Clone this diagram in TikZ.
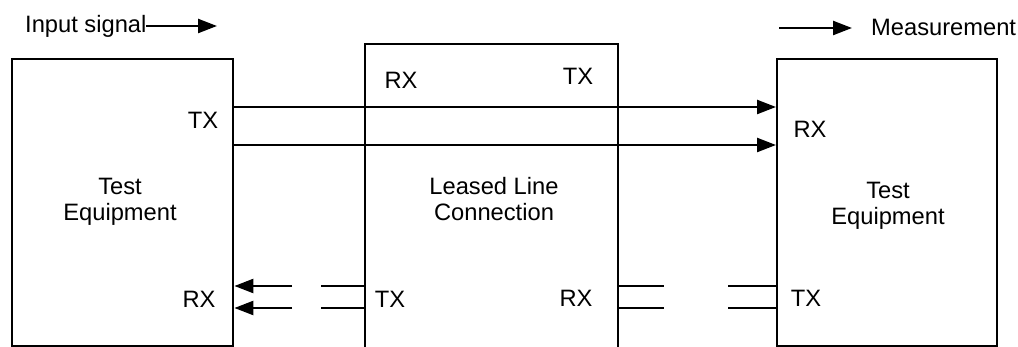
\documentclass[tikz,border=0pt]{standalone}
\usepackage{fontspec}
\setmainfont{Liberation Sans}
\usetikzlibrary{arrows.meta}
\begin{document}
\begin{tikzpicture}[x=1pt,y=-1pt,
  line width=2.4pt,
  lbl/.style={font=\fontsize{23.7}{26}\selectfont, inner sep=0pt, anchor=base},
  blk/.style={font=\fontsize{23.7}{26}\selectfont, inner sep=0pt, align=center},
  sig/.style={-{Triangle[length=19pt,width=14pt]}},
  box/.style={draw, rectangle, inner sep=0pt, line width=2.4pt}
]
\useasboundingbox (0,0) rectangle (1018,347);
% boxes
\node[box, minimum width=221pt, minimum height=287pt, anchor=north west] (lbox) at (11,58) {};
\node[box, minimum width=220pt, minimum height=287pt, anchor=north west] (rbox) at (776,58) {};
\coordinate (mtl) at (365,44);
\coordinate (mtr) at (618,44);
\coordinate (mbl) at (365,348);
\coordinate (mbr) at (618,348);
\draw (mbl) -- (mtl) -- (mtr) -- (mbr);
% labels
\node[lbl, anchor=base west] (lin) at (24,33) {Input signal};
\coordinate (lina) at (146,26);
\coordinate (linb) at (217,26);
\draw[sig] (lina) -- (linb);
\coordinate (msa) at (779,28);
\coordinate (msb) at (852,28);
\draw[sig] (msa) -- (msb);
\node[lbl, anchor=base west] (meas) at (870,36) {Measurement};

\node[lbl] (ltx) at (203,129) {TX};
\node[blk] (lte) at (120,202) {Test\\Equipment};
\node[lbl] (lrx) at (199,308) {RX};

\node[lbl] (mrx) at (401,89) {RX};
\node[lbl] (mtx) at (578,85) {TX};
\node[blk] (llc) at (494,199) {Leased Line\\Connection};
\node[lbl] (mtxb) at (390,308) {TX};
\node[lbl] (mrxb) at (576,307) {RX};

\node[lbl] (rrx) at (810,138) {RX};
\node[blk] (rte) at (888,206) {Test\\Equipment};
\node[lbl] (rtx) at (806,307) {TX};

% top arrows
\draw[sig] (lbox.east |- 0,107) -- (rbox.west |- 0,107);
\draw[sig] (lbox.east |- 0,145) -- (rbox.west |- 0,145);
% bottom
\foreach \y in {286,308}{
  \coordinate (a\y) at (292,\y);
  \draw[sig] (a\y) -- (lbox.east |- 0,\y);
  \coordinate (b\y) at (321,\y);
  \draw (b\y) -- (mtl |- 0,\y);
  \coordinate (c\y) at (664,\y);
  \draw (mtr |- 0,\y) -- (c\y);
  \coordinate (d\y) at (728,\y);
  \draw (d\y) -- (rbox.west |- 0,\y);
}
\end{tikzpicture}
\end{document}
